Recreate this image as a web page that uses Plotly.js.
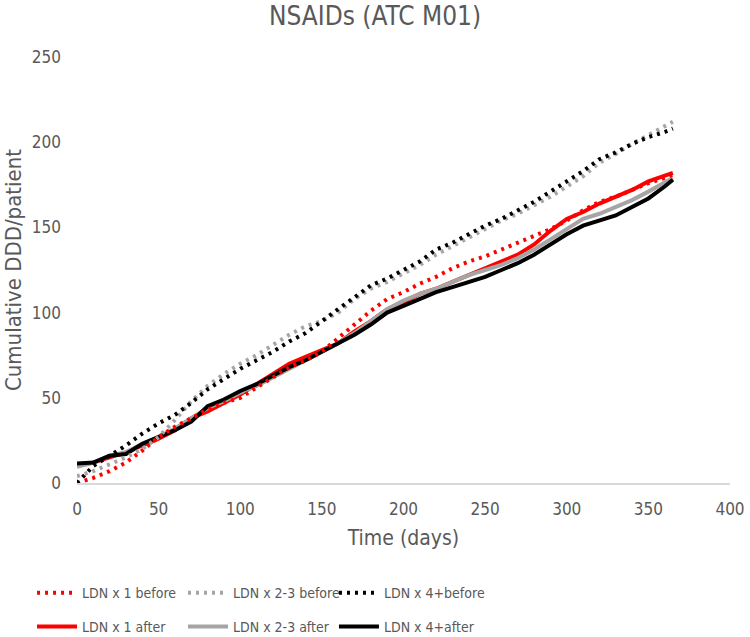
<!DOCTYPE html>
<html>
<head>
<meta charset="utf-8">
<script src="https://cdn.plot.ly/plotly-3.0.1.min.js"></script>
<style>
  html, body { margin: 0; padding: 0; background: #fff; }
  #chart { width: 750px; height: 637px; }
</style>
</head>
<body>
<div id="chart"></div>
<script>
  // days (x) shared by all series
  var days = [0, 10, 20, 30, 40, 50, 60, 70, 80, 90, 100, 110, 120, 130, 140, 150, 160, 170, 180,
              190, 200, 210, 220, 230, 240, 250, 260, 270, 280, 290, 300, 310, 320, 330, 340, 350, 360, 365];

  // cumulative DDD/patient
  var ldn1Before  = [0, 3, 7, 12, 19, 27, 33, 38, 43, 47, 50, 56, 62, 68, 72, 77, 85, 93, 101,
                     108, 112, 117, 121, 126, 130, 133, 137, 141, 145, 149, 154, 160, 165, 168, 172, 176, 179, 181];
  var ldn23Before = [4, 7, 11, 15, 20, 27, 37, 48, 57, 64, 70, 75, 81, 87, 92, 95, 100, 108, 114,
                     118, 123, 128, 134, 139, 144, 149, 154, 158, 163, 168, 174, 180, 188, 193, 199, 204, 209, 212];
  var ldn4Before  = [0, 10, 16, 22, 29, 35, 40, 47, 55, 61, 67, 72, 77, 83, 88, 95, 102, 109, 116,
                     120, 125, 130, 137, 141, 146, 151, 155, 160, 165, 171, 177, 183, 190, 194, 199, 203, 206, 208];
  var ldn1After   = [10, 12, 15, 18, 22, 26, 31, 38, 42, 47, 52, 58, 64, 70, 74, 78, 82, 89, 95,
                     102, 106, 111, 114, 118, 122, 126, 130, 134, 140, 148, 155, 159, 164, 168, 172, 177, 180, 182];
  var ldn23After  = [9.5, 12, 16, 18, 23, 27, 32, 38, 44, 48, 53, 57, 62, 67, 72, 77, 82, 88, 95,
                     102, 107, 111, 114, 118, 122, 125, 128, 132, 137, 143, 149, 155, 158, 162, 166, 171, 176, 179];
  var ldn4After   = [11.5, 12, 16, 17, 23, 27, 31, 36, 45, 49, 54, 58, 63, 68, 72, 77, 82, 87, 93,
                     100, 104, 108, 112, 115, 118, 121, 125, 129, 134, 140, 146, 151, 154, 157, 162, 167, 174, 178];

  var xTicks = [0, 50, 100, 150, 200, 250, 300, 350, 400];
  var yTicks = [0, 50, 100, 150, 200, 250];

  var textColor = '#595959';
  var font = 'DejaVu Sans Condensed, DejaVu Sans, sans-serif';

  function trace(name, y, color, dotted, legend) {
    return {
      type: 'scatter',
      mode: 'lines',
      name: name,
      x: days,
      y: y,
      legend: legend,
      line: {color: color, width: 4, dash: dotted ? '3px,5px' : 'solid'}
    };
  }

  var data = [
    trace('LDN x 1 after', ldn1After, '#FF0000', false, 'legend4'),
    trace('LDN x 2-3 after', ldn23After, '#A5A5A5', false, 'legend5'),
    trace('LDN x 4+after', ldn4After, '#000000', false, 'legend6'),
    trace('LDN x 1 before', ldn1Before, '#FF0000', true, 'legend'),
    trace('LDN x 2-3 before', ldn23Before, '#A5A5A5', true, 'legend2'),
    trace('LDN x 4+before', ldn4Before, '#000000', true, 'legend3')
  ];

  // one legend per entry so the 3 x 2 grid sits where the reference has it
  function legendAt(x, y) {
    return {
      orientation: 'h',
      xref: 'container', yref: 'container',
      x: x, xanchor: 'left',
      y: y, yanchor: 'middle',
      font: {family: font, size: 14, color: textColor},
      itemwidth: 40,
      bgcolor: 'rgba(0,0,0,0)'
    };
  }
  var colX = [0.0427, 0.244, 0.4453];
  var rowY = [0.069, 0.0157];

  var layout = {
    width: 750,
    height: 637,
    margin: {l: 77, r: 20, t: 57, b: 154},
    paper_bgcolor: '#fff',
    plot_bgcolor: '#fff',
    font: {family: font, color: textColor, size: 16},
    title: {text: 'NSAIDs (ATC M01)', font: {size: 26, color: textColor}, x: 0.5, xanchor: 'center', y: 0.975, yanchor: 'middle'},
    showlegend: true,
    legend: legendAt(colX[0], rowY[0]),
    legend2: legendAt(colX[1], rowY[0]),
    legend3: legendAt(colX[2], rowY[0]),
    legend4: legendAt(colX[0], rowY[1]),
    legend5: legendAt(colX[1], rowY[1]),
    legend6: legendAt(colX[2], rowY[1]),
    xaxis: {
      range: [0, 400],
      tickvals: xTicks,
      ticktext: xTicks.map(String),
      showgrid: false,
      zeroline: false,
      showline: true,
      linecolor: '#D9D9D9',
      linewidth: 1.5,
      ticks: '',
      ticklabelstandoff: 10,
      tickfont: {size: 17, color: textColor},
      title: {text: 'Time (days)', font: {size: 21, color: textColor}, standoff: 12}
    },
    yaxis: {
      range: [0, 250],
      tickvals: yTicks,
      ticktext: yTicks.map(String),
      showgrid: false,
      zeroline: false,
      showline: false,
      ticks: '',
      ticklabelstandoff: 15,
      tickfont: {size: 17, color: textColor},
      title: {text: 'Cumulative DDD/patient', font: {size: 22, color: textColor}, standoff: 4}
    }
  };

  Plotly.newPlot('chart', data, layout, {displayModeBar: false, responsive: false});
</script>
</body>
</html>
